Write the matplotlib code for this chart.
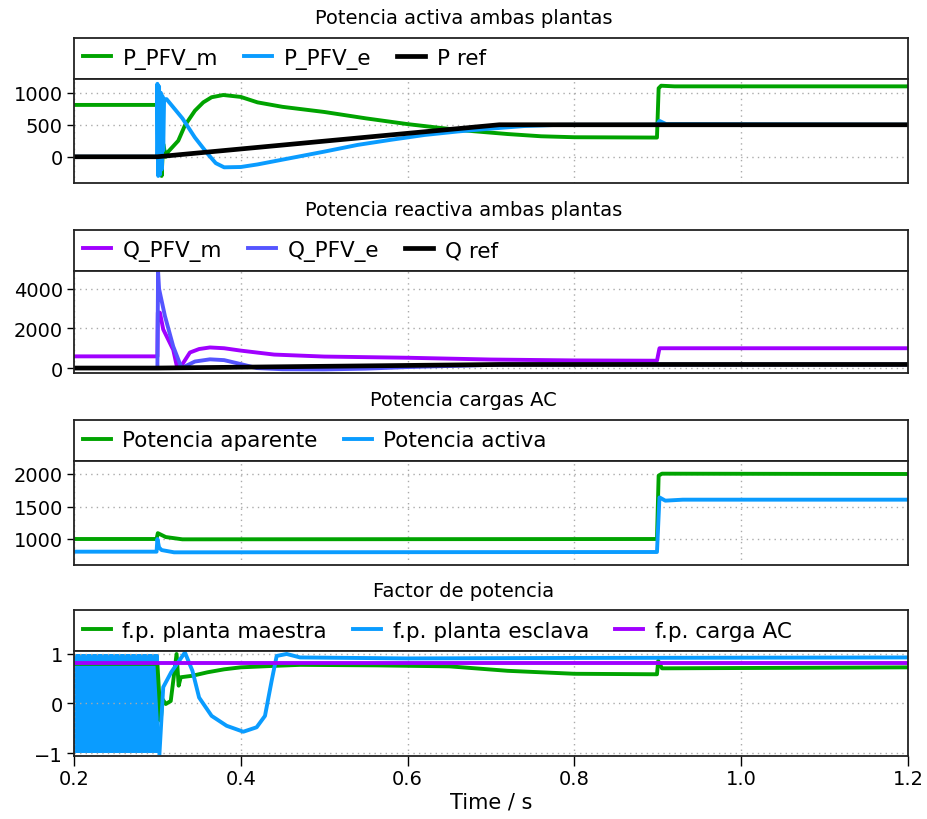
import matplotlib
matplotlib.use('Agg')
import matplotlib.pyplot as plt

plt.rcParams['font.family'] = ['DejaVu Sans']
plt.rcParams['font.size'] = 14

# colours
GREEN = '#00a300'
BLUE = '#0a9cff'
PURPLE = '#a000ff'
VIOLET = '#5555ff'
BLACK = '#000000'

# --- Potencia activa ambas plantas ---
t_p_m = [0.2, 0.3, 0.301, 0.303, 0.305, 0.307, 0.31, 0.313, 0.325, 0.333, 0.345, 0.355,
         0.365, 0.379, 0.40, 0.42, 0.45, 0.5, 0.55, 0.6, 0.66, 0.72, 0.76, 0.8, 0.899,
         0.901, 0.904, 0.92, 1.2]
p_pfv_m = [810, 810, 100, 600, -300, 200, 0, 80, 250, 490, 720, 850,
           930, 965, 935, 850, 780, 700, 600, 510, 420, 355, 320, 305, 300,
           1070, 1110, 1100, 1100]
t_p_e = [0.2, 0.2995, 0.3, 0.301, 0.302, 0.303, 0.304, 0.305, 0.306, 0.307, 0.308, 0.311,
         0.33, 0.345, 0.36, 0.37, 0.38, 0.40, 0.42, 0.46, 0.5, 0.54, 0.58, 0.62, 0.66,
         0.70, 0.74, 0.78, 0.899, 0.902, 0.91, 1.2]
p_pfv_e = [0, 0, 1140, -300, 1100, -280, 1000, -200, 950, 100, 900, 900,
           600, 300, 50, -100, -165, -160, -120, -20, 80, 185, 265, 340, 395,
           440, 480, 498, 500, 560, 510, 500]
t_p_ref = [0.2, 0.3, 0.71, 1.2]
p_ref = [0, 0, 500, 500]

# --- Potencia reactiva ambas plantas ---
t_q_m = [0.2, 0.3, 0.3005, 0.303, 0.307, 0.319, 0.323, 0.327, 0.339, 0.35, 0.363, 0.38,
         0.4, 0.44, 0.5, 0.6, 0.7, 0.8, 0.899, 0.902, 1.2]
q_pfv_m = [590, 590, 2800, 2800, 1950, 920, 150, 0, 785, 960, 1040, 1000,
           880, 680, 580, 520, 430, 385, 370, 1000, 1000]
t_q_e = [0.2, 0.3, 0.3008, 0.302, 0.309, 0.319, 0.329, 0.345, 0.363, 0.38, 0.4, 0.419,
         0.45, 0.5, 0.55, 0.6, 0.72, 1.2]
q_pfv_e = [0, 0, 4900, 4000, 2630, 1090, 0, 330, 440, 400, 200, 0,
           -60, -70, -30, 50, 180, 180]
t_q_ref = [0.2, 0.3, 0.71, 1.2]
q_ref = [0, 0, 180, 180]

# --- Potencia cargas AC ---
t_s = [0.2, 0.299, 0.3005, 0.31, 0.33, 0.899, 0.901, 0.905, 1.2]
s_aparente = [1000, 1000, 1090, 1030, 995, 1000, 1975, 2005, 2000]
t_pa = [0.2, 0.299, 0.3, 0.302, 0.305, 0.32, 0.899, 0.902, 0.909, 0.93, 1.2]
p_activa = [805, 805, 1000, 870, 830, 795, 800, 1640, 1590, 1605, 1605]

# --- Factor de potencia ---
t_fp_m = [0.2, 0.3, 0.304, 0.306, 0.31, 0.316, 0.323, 0.3255, 0.328, 0.342, 0.36, 0.38,
          0.4, 0.44, 0.471, 0.563, 0.65, 0.72, 0.8, 0.899, 0.9005, 0.905, 1.2]
fp_maestra = [0.8, 0.8, -0.35, 0.09, -0.01, 0.05, 1.0, 0.36, 0.53, 0.56, 0.63, 0.69,
              0.73, 0.76, 0.78, 0.77, 0.75, 0.66, 0.6, 0.59, 0.86, 0.71, 0.73]
t_fp_e_osc = [0.2, 0.3025]
fp_e_osc_lo = [-1.0, -1.0]
fp_e_osc_hi = [1.0, 1.0]
t_fp_e = [0.3025, 0.307, 0.3165, 0.333, 0.342, 0.35, 0.365, 0.383, 0.403, 0.419, 0.429,
          0.437, 0.443, 0.455, 0.471, 0.6, 0.8, 1.2]
fp_esclava = [-1.0, 0.33, 0.63, 1.03, 0.66, 0.12, -0.25, -0.45, -0.57, -0.48, -0.25,
              0.46, 0.96, 1.0, 0.93, 0.91, 0.92, 0.93]
t_fp_c = [0.2, 1.2]
fp_carga = [0.81, 0.81]

x_ticks = [0.2, 0.4, 0.6, 0.8, 1.0, 1.2]

fig = plt.figure(figsize=(9.27, 8.20), dpi=100)
H = 820.0
left, width = 74 / 927, 834 / 927

panels = [
    # title, title_y, legend_top, separator, bottom, ylim, yticks
    ('Potencia activa ambas plantas', 18, 39, 80, 184, (-410, 1215), [0, 500, 1000]),
    ('Potencia reactiva ambas plantas', 210, 231, 272, 374, (-250, 4900), [0, 2000, 4000]),
    ('Potencia cargas AC', 401, 421, 462, 566, (600, 2200), [1000, 1500, 2000]),
    ('Factor de potencia', 592, 611, 652, 756.5, (-1.05, 1.06), [-1, 0, 1]),
]

axes = []
for i, (title, ty, ltop, sep, bot, ylim, yticks) in enumerate(panels):
    fig.text(0.5, 1 - ty / H, title, ha='center', va='center', fontsize=14)
    lax = fig.add_axes([left, 1 - sep / H, width, (sep - ltop) / H])
    lax.set_xticks([])
    lax.set_yticks([])
    for s in lax.spines.values():
        s.set_linewidth(1.3)
        s.set_color('#222222')
    ax = fig.add_axes([left, 1 - bot / H, width, (bot - sep) / H])
    ax.set_xlim(0.2, 1.2)
    ax.set_ylim(*ylim)
    ax.set_yticks(yticks)
    ax.set_xticks(x_ticks)
    ax.grid(True, color='#aaaaaa', linestyle=(0, (1, 3)), linewidth=1.0)
    for s in ax.spines.values():
        s.set_linewidth(1.3)
        s.set_color('#222222')
    ax.tick_params(axis='y', direction='out', length=5, width=1.0, pad=3, labelsize=14)
    if i < 3:
        ax.tick_params(axis='x', length=0, labelbottom=False)
    else:
        ax.tick_params(axis='x', direction='out', length=7, width=1.0, pad=3, labelsize=14)
        ax.set_xticklabels(['0.2', '0.4', '0.6', '0.8', '1.0', '1.2'])
        ax.set_xlabel('Time / s', labelpad=2, fontsize=15)
    axes.append((lax, ax))

lw = 2.8

# panel 1
lax, ax = axes[0]
ax.plot(t_p_m, p_pfv_m, color=GREEN, lw=lw, label='P_PFV_m')
ax.plot(t_p_e, p_pfv_e, color=BLUE, lw=lw, label='P_PFV_e')
ax.plot(t_p_ref, p_ref, color=BLACK, lw=lw + 0.6, label='P ref')

# panel 2
lax2, ax2 = axes[1]
ax2.plot(t_q_m, q_pfv_m, color=PURPLE, lw=lw, label='Q_PFV_m')
ax2.plot(t_q_e, q_pfv_e, color=VIOLET, lw=lw, label='Q_PFV_e')
ax2.plot(t_q_ref, q_ref, color=BLACK, lw=lw + 0.6, label='Q ref')

# panel 3
lax3, ax3 = axes[2]
ax3.plot(t_s, s_aparente, color=GREEN, lw=lw, label='Potencia aparente')
ax3.plot(t_pa, p_activa, color=BLUE, lw=lw, label='Potencia activa')

# panel 4
lax4, ax4 = axes[3]
ax4.plot(t_fp_m, fp_maestra, color=GREEN, lw=lw, label='f.p. planta maestra')
ax4.fill_between(t_fp_e_osc, fp_e_osc_lo, fp_e_osc_hi, color=BLUE, lw=0)
ax4.plot(t_fp_e, fp_esclava, color=BLUE, lw=lw, label='f.p. planta esclava')
ax4.plot(t_fp_c, fp_carga, color=PURPLE, lw=lw, label='f.p. carga AC')

for lax, ax in axes:
    h, l = ax.get_legend_handles_labels()
    lax.legend(h, l, loc='center left', bbox_to_anchor=(0, 0.5), ncol=len(h),
               frameon=False, borderaxespad=0, borderpad=0.4, handlelength=1.3,
               handletextpad=0.55, columnspacing=1.2, fontsize=15.5)

fig.savefig('out.png', dpi=100)
